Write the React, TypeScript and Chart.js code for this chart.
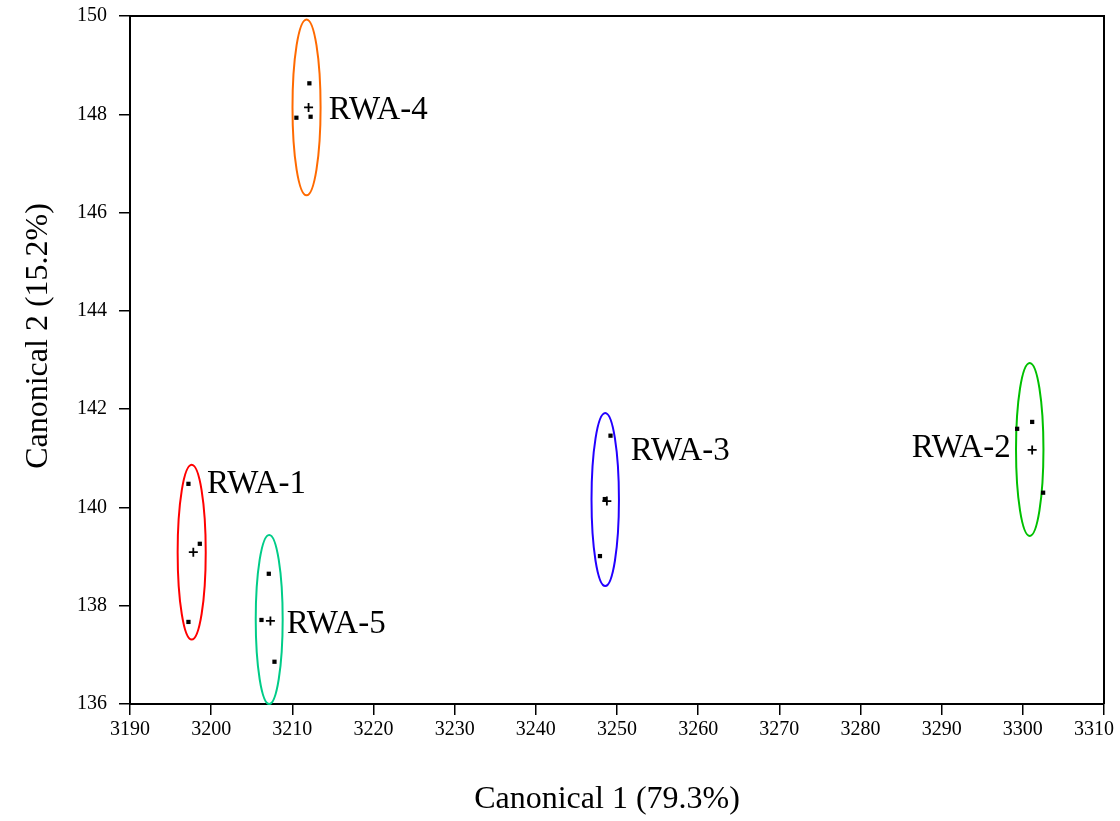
import React, { useEffect, useRef } from "react";
import { Chart, registerables } from "chart.js";

Chart.register(...registerables);

const groups = ["RWA-1", "RWA-2", "RWA-3", "RWA-4", "RWA-5"];
const groupColors = ["#ff0000", "#00c000", "#2200ff", "#ff6a00", "#00cc88"];
const obsX = [
  [3197.2, 3198.6, 3197.2],
  [3301.15, 3299.3, 3302.5],
  [3249.2, 3248.5, 3247.9],
  [3212.1, 3210.5, 3212.25],
  [3207.1, 3206.2, 3207.8],
];
const obsY = [
  [140.48, 139.26, 137.67],
  [141.74, 141.6, 140.3],
  [141.46, 140.17, 139.01],
  [148.63, 147.93, 147.95],
  [138.65, 137.71, 136.86],
];
const centroidX = [3197.8, 3301.15, 3248.75, 3212.0, 3207.3];
const centroidY = [139.09, 141.17, 140.13, 148.14, 137.69];
const ellipseCX = [3197.6, 3300.85, 3248.55, 3211.75, 3207.15];
const ellipseCY = [139.09, 141.18, 140.16, 148.14, 137.72];
const ellipseRX = [1.73, 1.69, 1.69, 1.73, 1.66];
const ellipseRY = [1.78, 1.76, 1.76, 1.79, 1.72];
const labelX = [3199.5, 3298.5, 3251.7, 3214.5, 3209.3];
const labelY = [140.3, 141.03, 140.97, 147.9, 137.44];
const labelAlign = ["left", "right", "left", "left", "left"];

const xMin = 3190;
const xMax = 3310;
const xStep = 10;
const yMin = 136;
const yMax = 150;
const yStep = 2;
const xTitle = "Canonical 1 (79.3%)";
const yTitle = "Canonical 2 (15.2%)";

const FONT = "'Times New Roman', 'Liberation Serif', serif";
const TICK_FONT_SIZE = 20;

const decorPlugin = {
  id: "decor",
  beforeDatasetsDraw(chart: any) {
    const { ctx, scales } = chart;
    const xs = scales.x;
    const ys = scales.y;
    ctx.save();
    for (let i = 0; i < groups.length; i++) {
      const cx = xs.getPixelForValue(ellipseCX[i]);
      const cy = ys.getPixelForValue(ellipseCY[i]);
      const rx = Math.abs(xs.getPixelForValue(ellipseCX[i] + ellipseRX[i]) - cx);
      const ry = Math.abs(ys.getPixelForValue(ellipseCY[i] + ellipseRY[i]) - cy);
      ctx.beginPath();
      ctx.ellipse(cx, cy, rx, ry, 0, 0, Math.PI * 2);
      ctx.strokeStyle = groupColors[i];
      ctx.lineWidth = 2;
      ctx.stroke();
    }
    ctx.restore();
  },
  afterDraw(chart: any) {
    const { ctx, scales, chartArea } = chart;
    const xs = scales.x;
    const ys = scales.y;
    ctx.save();
    ctx.strokeStyle = "#000";
    ctx.lineWidth = 2;
    ctx.beginPath();
    ctx.moveTo(chartArea.left, chartArea.top);
    ctx.lineTo(chartArea.right, chartArea.top);
    ctx.lineTo(chartArea.right, chartArea.bottom);
    ctx.stroke();

    // last x tick label, kept inside the canvas (shifted left like the reference)
    const items = xs.getLabelItems ? xs.getLabelItems() : xs._labelItems;
    if (items && items.length) {
      const ref = items[0];
      const tr = ref.options.translation;
      ctx.fillStyle = "#000";
      ctx.font = `${TICK_FONT_SIZE}px ${FONT}`;
      ctx.textAlign = "right";
      ctx.textBaseline = ref.options.textBaseline || "top";
      ctx.fillText(String(xMax), chartArea.right + 10, tr[1] + (ref.textOffset || 0));
    }

    ctx.fillStyle = "#000";
    ctx.font = `33px ${FONT}`;
    ctx.textBaseline = "alphabetic";
    for (let i = 0; i < groups.length; i++) {
      ctx.textAlign = labelAlign[i] as CanvasTextAlign;
      ctx.fillText(groups[i], xs.getPixelForValue(labelX[i]), ys.getPixelForValue(labelY[i]));
    }
    ctx.font = `32px ${FONT}`;
    ctx.textAlign = "center";
    ctx.fillText(xTitle, 607, 808);
    ctx.translate(47, 336);
    ctx.rotate(-Math.PI / 2);
    ctx.fillText(yTitle, 0, 0);
    ctx.restore();
  },
};

export default function App() {
  const ref = useRef<HTMLCanvasElement | null>(null);
  useEffect(() => {
    document.body.style.margin = "0";
    if (!ref.current) return;
    const datasets: any[] = [];
    for (let i = 0; i < groups.length; i++) {
      datasets.push({
        label: groups[i],
        data: obsX[i].map((x, j) => ({ x, y: obsY[i][j] })),
        pointStyle: "rect",
        pointRadius: 3,
        borderWidth: 0,
        backgroundColor: "#000",
        borderColor: "#000",
        showLine: false,
      });
    }
    datasets.push({
      label: "Centroids",
      data: centroidX.map((x, i) => ({ x, y: centroidY[i] })),
      pointStyle: "cross",
      pointRadius: 4.5,
      borderWidth: 1.8,
      borderColor: "#000",
      backgroundColor: "#000",
      showLine: false,
    });
    const chart = new Chart(ref.current, {
      type: "scatter",
      data: { datasets },
      options: {
        animation: false,
        responsive: false,
        devicePixelRatio: 1,
        layout: { padding: { left: 0, top: 16, right: 16, bottom: 0 } },
        plugins: { legend: { display: false }, tooltip: { enabled: false } },
        scales: {
          x: {
            type: "linear",
            min: xMin,
            max: xMax,
            ticks: {
              stepSize: xStep,
              color: "#000",
              padding: 3,
              font: { family: FONT, size: TICK_FONT_SIZE },
              maxRotation: 0,
              callback: (v: any) => (v === xMax ? "" : String(v)),
            },
            grid: {
              drawOnChartArea: false,
              drawTicks: true,
              tickLength: 11,
              color: "#000",
              lineWidth: 1.5,
            },
            border: { display: true, color: "#000", width: 2 },
            afterFit(scale: any) {
              scale.height = 117;
              scale.paddingLeft = 0;
              scale.paddingRight = 0;
            },
          },
          y: {
            type: "linear",
            min: yMin,
            max: yMax,
            ticks: {
              stepSize: yStep,
              color: "#000",
              padding: 12,
              font: { family: FONT, size: TICK_FONT_SIZE },
              callback: (v: any) => String(v),
            },
            grid: {
              drawOnChartArea: false,
              drawTicks: true,
              tickLength: 11,
              color: "#000",
              lineWidth: 1.5,
            },
            border: { display: true, color: "#000", width: 2 },
            afterFit(scale: any) {
              scale.width = 130;
              scale.paddingTop = 0;
              scale.paddingBottom = 0;
            },
          },
        },
      },
      plugins: [decorPlugin],
    } as any);
    return () => chart.destroy();
  }, []);
  return <canvas ref={ref} width={1120} height={821} style={{ display: "block" }} />;
}
